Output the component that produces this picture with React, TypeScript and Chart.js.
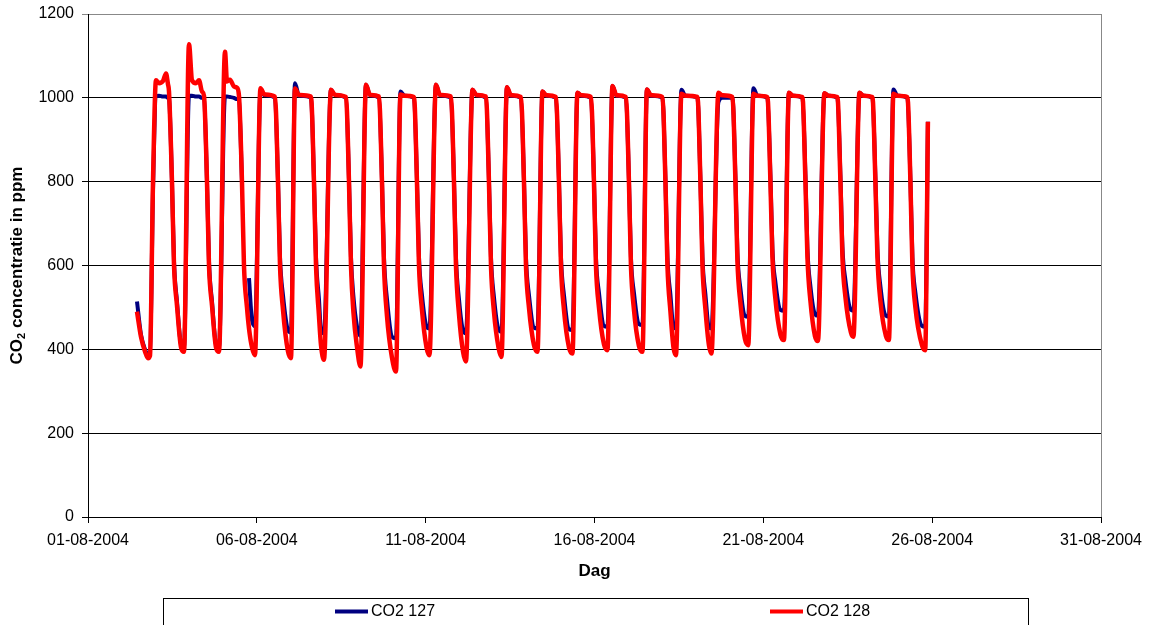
import React, { useEffect, useRef } from "react";
import { Chart, registerables } from "chart.js";

Chart.register(...registerables);

// Time in days of August 2004 (1 = 01-08-2004 00:00)
const xDays: number[] = [
  2.451, 2.569, 2.688, 2.777, 2.836, 2.925,
  3.014, 3.102, 3.221, 3.310, 3.369, 3.399, 3.487, 3.547, 3.635, 3.754, 3.843,
  3.991, 4.080, 4.198, 4.287, 4.376, 4.435, 4.524, 4.583, 4.672, 4.790, 4.879,
  5.057, 5.116, 5.205, 5.323, 5.412, 5.471, 5.560, 5.619, 5.708, 5.768, 5.856, 5.945,
  6.108, 6.227, 6.537, 6.626, 6.686, 6.774, 6.922, 7.011,
  7.130, 7.248, 7.603, 7.692, 7.752, 7.840, 7.900, 7.988,
  8.196, 8.314, 8.640, 8.729, 8.788, 8.862, 8.966, 9.069,
  9.232, 9.351, 9.617, 9.706, 9.765, 9.854, 10.002, 10.121,
  10.254, 10.372, 10.654, 10.742, 10.802, 10.890, 11.024, 11.112,
  11.305, 11.423, 11.749, 11.838, 11.897, 11.986, 12.105, 12.193,
  12.386, 12.504, 12.786, 12.874, 12.934, 13.022, 13.156, 13.245,
  13.407, 13.526, 13.822, 13.911, 13.970, 14.059, 14.207, 14.311,
  14.459, 14.577, 14.858, 14.947, 15.007, 15.095, 15.243, 15.347,
  15.495, 15.613, 15.895, 15.984, 16.043, 16.132, 16.280, 16.384,
  16.532, 16.650, 16.931, 17.020, 17.079, 17.168, 17.316, 17.420,
  17.553, 17.672, 18.012, 18.101, 18.160, 18.249, 18.338, 18.412,
  18.575, 18.693, 19.049, 19.137, 19.197, 19.286, 19.389, 19.463,
  19.670, 19.789, 20.085, 20.174, 20.233, 20.322, 20.455, 20.553,
  20.707, 20.825, 21.121, 21.210, 21.269, 21.358, 21.507, 21.610,
  21.758, 21.877, 22.158, 22.247, 22.306, 22.395, 22.528, 22.617,
  22.809, 22.928, 23.194, 23.283, 23.342, 23.431, 23.594, 23.668,
  23.846, 23.964, 24.231, 24.319, 24.379, 24.468, 24.630, 24.719,
  24.853, 24.971, 25.267, 25.356, 25.415, 25.504, 25.697, 25.794, 25.874,
];

const co2_127: (number | null)[] = [
  514, 435, 400, 388, 390, 780,
  1003, 1005, 1003, 1003, 1000, 998, 800, 610, 515, 412, 405,
  1005, 1005, 1003, 1003, 1000, 998, 800, 610, 515, 412, 405,
  1003, 1003, 1002, 1000, 997, 995, 800, null, null, 570, 470, 455,
  1015, 1006, 1000, 805, 620, 530, 446, 440,
  1035, 1005, 1000, 805, 620, 520, 445, 438,
  1019, 1007, 1000, 805, 620, 525, 455, 432,
  1031, 1006, 1000, 805, 620, 520, 430, 426,
  1015, 1005, 1000, 805, 620, 530, 455, 450,
  1031, 1006, 1000, 805, 620, 520, 445, 438,
  1019, 1006, 1000, 805, 620, 525, 448, 442,
  1025, 1005, 1000, 805, 620, 530, 452, 450,
  1015, 1005, 1000, 805, 620, 530, 448, 446,
  1012, 1005, 1000, 805, 620, 535, 456, 454,
  1028, 1005, 1000, 805, 620, 535, 460, 458,
  1020, 1005, 1000, 805, 620, 530, 452, 450,
  1019, 1005, 1000, 805, 620, 530, 452, 450,
  990, 1000, 1000, 810, 630, 545, 480, 478,
  1023, 1005, 1000, 815, 640, 560, 494, 492,
  1012, 1005, 1000, 815, 640, 550, 484, 480,
  1011, 1005, 1000, 815, 645, 565, 494, 492,
  1012, 1005, 1000, 810, 640, 550, 480, 478,
  1020, 1005, 1000, 805, 620, 535, 456, 454, 943,
];

const co2_128: number[] = [
  490, 430, 395, 379, 385, 800,
  1042, 1035, 1040, 1058, 1032, 1015, 800, 600, 505, 405, 394,
  1128, 1042, 1035, 1042, 1015, 1005, 800, 600, 505, 405, 394,
  1110, 1039, 1043, 1027, 1024, 1005, 800, 600, 500, 450, 405, 386,
  1023, 1008, 1003, 800, 600, 495, 395, 379,
  1022, 1007, 1003, 800, 600, 480, 410, 375,
  1019, 1007, 1002, 800, 600, 487, 406, 359,
  1031, 1007, 1003, 800, 600, 480, 380, 347,
  1008, 1005, 1002, 800, 600, 495, 405, 386,
  1031, 1007, 1003, 800, 600, 485, 395, 371,
  1019, 1007, 1003, 800, 600, 490, 405, 382,
  1025, 1006, 1002, 800, 600, 500, 410, 394,
  1015, 1006, 1002, 800, 600, 495, 405, 390,
  1012, 1006, 1002, 800, 600, 500, 412, 398,
  1028, 1006, 1002, 800, 600, 495, 408, 394,
  1020, 1006, 1002, 800, 600, 490, 405, 386,
  1010, 1005, 1002, 800, 600, 495, 410, 390,
  1012, 1006, 1002, 800, 610, 510, 425, 410,
  1010, 1005, 1002, 800, 620, 520, 435, 422,
  1012, 1005, 1002, 800, 620, 515, 432, 420,
  1011, 1005, 1002, 800, 620, 525, 440, 430,
  1012, 1005, 1002, 800, 620, 515, 432, 422,
  1010, 1005, 1002, 800, 600, 500, 410, 398, 943,
];

const seriesNames = ["CO2 127", "CO2 128"];
const seriesColors = ["#000080", "#FF0000"];
const xTickDays = [1, 6, 11, 16, 21, 26, 31];
const xTickLabels = ["01-08-2004", "06-08-2004", "11-08-2004", "16-08-2004", "21-08-2004", "26-08-2004", "31-08-2004"];
const yMin = 0;
const yMax = 1200;
const yStep = 200;
const xTitle = "Dag";
const yTitleParts = ["CO", "2", " concentratie in ppm"];

const FONT = '"Liberation Sans", Arial, Helvetica, sans-serif';

const decorPlugin = {
  id: "decor",
  afterDraw(chart: any) {
    const { ctx, chartArea: a } = chart;
    ctx.save();
    // plot border (right side)
    ctx.strokeStyle = "#888888";
    ctx.lineWidth = 1;
    ctx.beginPath();
    ctx.moveTo(Math.round(a.right) + 0.5, a.top);
    ctx.lineTo(Math.round(a.right) + 0.5, a.bottom);
    ctx.stroke();

    ctx.fillStyle = "#000";
    // x title
    ctx.font = `bold 17px ${FONT}`;
    ctx.textAlign = "center";
    ctx.textBaseline = "middle";
    ctx.fillText(xTitle, (a.left + a.right) / 2, 571);

    // y title with subscript
    ctx.save();
    ctx.translate(17, (a.top + a.bottom) / 2);
    ctx.rotate(-Math.PI / 2);
    const mainFont = `bold 17px ${FONT}`;
    const subFont = `bold 11px ${FONT}`;
    ctx.font = mainFont;
    const w0 = ctx.measureText(yTitleParts[0]).width;
    const w2 = ctx.measureText(yTitleParts[2]).width;
    ctx.font = subFont;
    const w1 = ctx.measureText(yTitleParts[1]).width;
    const total = w0 + w1 + w2;
    const x0 = -total / 2;
    ctx.textAlign = "left";
    ctx.font = mainFont;
    ctx.fillText(yTitleParts[0], x0, 0);
    ctx.font = subFont;
    ctx.fillText(yTitleParts[1], x0 + w0, 5);
    ctx.font = mainFont;
    ctx.fillText(yTitleParts[2], x0 + w0 + w1, 0);
    ctx.restore();

    // legend box
    ctx.strokeStyle = "#000";
    ctx.lineWidth = 1;
    ctx.strokeRect(163.5, 598.5, 865, 60);
    const items = [
      { x: 335, label: seriesNames[0], color: seriesColors[0] },
      { x: 770, label: seriesNames[1], color: seriesColors[1] },
    ];
    ctx.font = `16px ${FONT}`;
    ctx.textAlign = "left";
    ctx.textBaseline = "middle";
    for (const it of items) {
      ctx.strokeStyle = it.color;
      ctx.lineWidth = 4;
      ctx.beginPath();
      ctx.moveTo(it.x, 611.5);
      ctx.lineTo(it.x + 33, 611.5);
      ctx.stroke();
      ctx.fillStyle = "#000";
      ctx.fillText(it.label, it.x + 36, 612);
    }
    ctx.restore();
  },
};

export default function App() {
  const ref = useRef<HTMLCanvasElement>(null);
  useEffect(() => {
    const canvas = ref.current;
    if (!canvas) return;
    Chart.defaults.color = "#000";
    const chart = new Chart(canvas, {
      type: "line",
      data: {
        datasets: [
          {
            label: seriesNames[0],
            data: xDays.map((x, i) => ({ x, y: co2_127[i] })),
            borderColor: seriesColors[0],
            backgroundColor: seriesColors[0],
            borderWidth: 4,
            pointRadius: 0,
            cubicInterpolationMode: "monotone",
            spanGaps: false,
            order: 1,
          },
          {
            label: seriesNames[1],
            data: xDays.map((x, i) => ({ x, y: co2_128[i] })),
            borderColor: seriesColors[1],
            backgroundColor: seriesColors[1],
            borderWidth: 4.5,
            pointRadius: 0,
            cubicInterpolationMode: "monotone",
            order: 0,
          },
        ],
      },
      options: {
        animation: false,
        responsive: false,
        devicePixelRatio: 1,
        layout: { padding: { left: 0, top: 14, right: 50, bottom: 0 } },
        plugins: { legend: { display: false }, tooltip: { enabled: false } },
        scales: {
          x: {
            type: "linear",
            min: xTickDays[0],
            max: xTickDays[xTickDays.length - 1],
            afterFit: (s: any) => { s.height = 108; s.paddingLeft = 0; s.paddingRight = 0; },
            afterBuildTicks: (s: any) => { s.ticks = xTickDays.map((v) => ({ value: v })); },
            ticks: {
              autoSkip: false,
              maxRotation: 0,
              minRotation: 0,
              padding: 8,
              font: { family: FONT, size: 16 },
              color: "#000",
              callback: (v: any) => xTickLabels[xTickDays.indexOf(Number(v))] ?? "",
            },
            grid: { drawOnChartArea: false, drawTicks: true, tickLength: 6, color: "#000" },
            border: { display: true, color: "#000", width: 1 },
          },
          y: {
            type: "linear",
            min: yMin,
            max: yMax,
            afterFit: (s: any) => { s.width = 88; s.paddingTop = 0; s.paddingBottom = 0; },
            ticks: {
              stepSize: yStep,
              padding: 8,
              font: { family: FONT, size: 16 },
              color: "#000",
              callback: (v: any) => String(v),
            },
            grid: {
              drawTicks: true,
              tickLength: 6,
              color: (c: any) => (c.tick && c.tick.value === yMax ? "#888888" : "#000"),
            },
            border: { display: true, color: "#000", width: 1 },
          },
        },
      },
      plugins: [decorPlugin],
    } as any);
    return () => chart.destroy();
  }, []);
  return (
    <div style={{ position: "absolute", left: 0, top: 0, width: 1151, height: 625, background: "#fff", overflow: "hidden" }}>
      <canvas ref={ref} width={1151} height={625} style={{ display: "block" }} />
    </div>
  );
}
